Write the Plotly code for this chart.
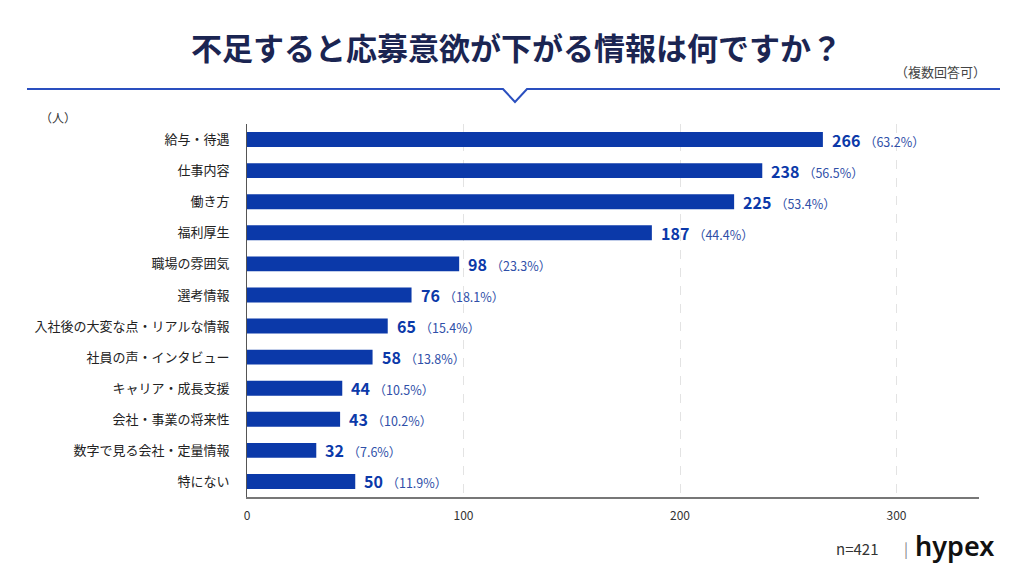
import plotly.graph_objects as go

# datos
categorias = ["給与・待遇", "仕事内容", "働き方", "福利厚生", "職場の雰囲気", "選考情報",
              "入社後の大変な点・リアルな情報", "社員の声・インタビュー", "キャリア・成長支援",
              "会社・事業の将来性", "数字で見る会社・定量情報", "特にない"]
valores = [266, 238, 225, 187, 98, 76, 65, 58, 44, 43, 32, 50]
porcentajes = [63.2, 56.5, 53.4, 44.4, 23.3, 18.1, 15.4, 13.8, 10.5, 10.2, 7.6, 11.9]
ticks_x = [0, 100, 200, 300]

AZUL = "#0b39a9"
NAVY = "#1b2552"
FONT = "Noto Sans CJK JP"

# area del grafico en pixeles
L, R, T, B = 247, 979, 124, 497
W, H = 1024, 576


def px(x):
    return (x - L) / (R - L)


def py(y):
    return (B - y) / (B - T)


fig = go.Figure()
fig.add_trace(go.Bar(
    x=valores, y=categorias, orientation="h",
    marker=dict(color=AZUL, line=dict(width=0)),
    hoverinfo="skip",
))

# etiquetas de valor
for cat, v, p in zip(categorias, valores, porcentajes):
    fig.add_annotation(
        x=v, y=cat, xref="x", yref="y", showarrow=False, xanchor="left", xshift=7,
        text=f"<b>{v}</b> <span style='font-size:12.5px;color:#2f4fa8'>（{p}%）</span>",
        font=dict(family=FONT, size=16, color=AZUL),
    )

fig.update_layout(
    width=W, height=H,
    margin=dict(l=L, r=W - R, t=T, b=H - B),
    paper_bgcolor="white", plot_bgcolor="white",
    bargap=0.52, showlegend=False,
    font=dict(family=FONT, color="#222222"),
    xaxis=dict(range=[0, (R - L) / 2.165], tickvals=ticks_x, ticks="outside",
               ticklen=7, tickcolor="white",
               tickfont=dict(size=12, color="#333333"),
               showgrid=True, gridcolor="#e3e3e3", griddash="dash", gridwidth=1,
               zeroline=False, showline=True, linecolor="#777777", linewidth=1.5),
    yaxis=dict(autorange="reversed", ticks="outside", ticklen=14, tickcolor="white",
               tickfont=dict(size=13, color="#222222"),
               showline=True, linecolor="#555555", linewidth=1, showgrid=False),
)

# linea con muesca
xs = [27, 503, 515, 527, 1000]
ys = [89, 89, 102, 89, 89]
path = "M " + " L ".join(f"{px(a):.5f},{py(b):.5f}" for a, b in zip(xs, ys))
fig.add_shape(type="path", path=path, xref="paper", yref="paper",
              line=dict(color="#2a4fbf", width=2))

anot = [
    dict(text="<b>不足すると応募意欲が下がる情報は何ですか？</b>", x=px(516), y=py(46),
         font=dict(size=31, color=NAVY), xanchor="center"),
    dict(text="（複数回答可）", x=px(988), y=py(72), font=dict(size=13, color="#444444"),
         xanchor="right"),
    dict(text="（人）", x=px(38), y=py(117), font=dict(size=12, color="#333333"),
         xanchor="left"),
    dict(text="n=421", x=px(880), y=py(548), font=dict(size=15, color="#333333"),
         xanchor="right"),
    dict(text="|", x=px(906), y=py(548), font=dict(size=15, color="#888888"),
         xanchor="center"),
    dict(text="hypex", x=px(996), y=py(545), font=dict(size=27, color="#111111",
         family="Noto Sans", weight=600), xanchor="right"),
]
for a in anot:
    fig.add_annotation(xref="paper", yref="paper", showarrow=False, yanchor="middle",
                       **a)

fig.write_html("out.html", config={"displayModeBar": False},
               post_script="document.body.style.margin='0';")
